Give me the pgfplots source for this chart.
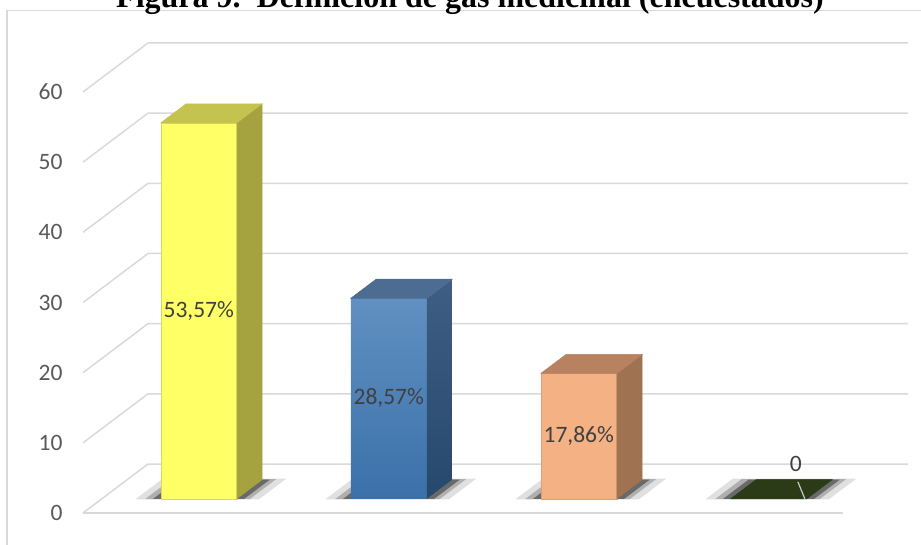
\documentclass[border=0pt]{standalone}
\usepackage{pgfplots}
\pgfplotsset{compat=1.18}
\usepackage{fontspec}
\setmainfont{Carlito}
\newfontfamily\titlefont{Liberation Serif}
\definecolor{gridc}{HTML}{D9D9D9}
\definecolor{ticklab}{HTML}{595959}
\definecolor{datalab}{HTML}{404040}
\definecolor{yfront}{HTML}{FFFF66}
\definecolor{ytop}{HTML}{C5C34F}
\definecolor{yside}{HTML}{A4A340}
\definecolor{bfronttop}{HTML}{6190C2}
\definecolor{bfrontbot}{HTML}{3A71A9}
\definecolor{btop}{HTML}{4C6D91}
\definecolor{bsidetop}{HTML}{3E5F82}
\definecolor{bsidebot}{HTML}{26486D}
\definecolor{ofront}{HTML}{F4B183}
\definecolor{otop}{HTML}{B88160}
\definecolor{oside}{HTML}{9F7351}
\definecolor{gtop}{HTML}{2B3A17}
\begin{document}
\begin{tikzpicture}
\path[use as bounding box] (0bp,0bp) rectangle (921bp,-545bp);
\clip (0bp,0bp) rectangle (921bp,-545bp);
\draw[gridc, line width=1.5bp] (7bp,-10.7bp) rectangle (950bp,-580bp);
\node[font=\titlefont\bfseries\fontsize{32bp}{36bp}\selectfont, anchor=base, inner sep=0pt] at (470bp,-7bp) {Figura 9.\ \ Definición de gas medicinal (encuestados)};
\begin{axis}[
  at={(178bp,-513bp)}, anchor=origin,
  x={(190bp,0bp)}, y={(65bp,49bp)}, z={(0bp,7.017bp)},
  xmin=-0.5, xmax=3.5, ymin=0, ymax=1, zmin=0, zmax=60,
  clip=false,
  axis line style={draw=none},
  xtick=\empty, ytick=\empty,
  ztick={0,10,20,30,40,50,60},
  major tick length=0pt,
  /pgf/number format/assume math mode=true,
  zticklabel style={font=\fontsize{23.5bp}{28bp}\selectfont, text=ticklab, anchor=east, xshift=-17bp},
]
% grid: left wall and back wall
\addplot3[gridc, line width=1.5bp] coordinates {(-0.5,0,0) (-0.5,1,0) (3.5,1,0)};
\addplot3[gridc, line width=1.5bp] coordinates {(-0.5,0,10) (-0.5,1,10) (3.5,1,10)};
\addplot3[gridc, line width=1.5bp] coordinates {(-0.5,0,20) (-0.5,1,20) (3.5,1,20)};
\addplot3[gridc, line width=1.5bp] coordinates {(-0.5,0,30) (-0.5,1,30) (3.5,1,30)};
\addplot3[gridc, line width=1.5bp] coordinates {(-0.5,0,40) (-0.5,1,40) (3.5,1,40)};
\addplot3[gridc, line width=1.5bp] coordinates {(-0.5,0,50) (-0.5,1,50) (3.5,1,50)};
\addplot3[gridc, line width=1.5bp] coordinates {(-0.5,0,60) (-0.5,1,60) (3.5,1,60)};
\addplot3[gridc, line width=1.5bp] coordinates {(-0.5,0,0) (3.5,0,0)};
% shadows
\addplot3[fill=black, fill opacity=0.12, draw=none] coordinates {(-0.32,0.28,0) (0.33,0.28,0) (0.33,0.70,0) (-0.32,0.70,0)} -- cycle;
\addplot3[fill=black, fill opacity=0.22, draw=none] coordinates {(-0.27,0.285,0) (0.28,0.285,0) (0.28,0.69,0) (-0.27,0.69,0)} -- cycle;
\addplot3[fill=black, fill opacity=0.40, draw=none] coordinates {(-0.23,0.29,0) (0.25,0.29,0) (0.25,0.68,0) (-0.23,0.68,0)} -- cycle;
\addplot3[fill=black, fill opacity=0.12, draw=none] coordinates {(0.68,0.28,0) (1.33,0.28,0) (1.33,0.70,0) (0.68,0.70,0)} -- cycle;
\addplot3[fill=black, fill opacity=0.22, draw=none] coordinates {(0.73,0.285,0) (1.28,0.285,0) (1.28,0.69,0) (0.73,0.69,0)} -- cycle;
\addplot3[fill=black, fill opacity=0.40, draw=none] coordinates {(0.77,0.29,0) (1.25,0.29,0) (1.25,0.68,0) (0.77,0.68,0)} -- cycle;
\addplot3[fill=black, fill opacity=0.12, draw=none] coordinates {(1.68,0.28,0) (2.33,0.28,0) (2.33,0.70,0) (1.68,0.70,0)} -- cycle;
\addplot3[fill=black, fill opacity=0.22, draw=none] coordinates {(1.73,0.285,0) (2.28,0.285,0) (2.28,0.69,0) (1.73,0.69,0)} -- cycle;
\addplot3[fill=black, fill opacity=0.40, draw=none] coordinates {(1.77,0.29,0) (2.25,0.29,0) (2.25,0.68,0) (1.77,0.68,0)} -- cycle;
\addplot3[fill=black, fill opacity=0.12, draw=none] coordinates {(2.68,0.28,0) (3.33,0.28,0) (3.33,0.70,0) (2.68,0.70,0)} -- cycle;
\addplot3[fill=black, fill opacity=0.22, draw=none] coordinates {(2.73,0.285,0) (3.28,0.285,0) (3.28,0.69,0) (2.73,0.69,0)} -- cycle;
\addplot3[fill=black, fill opacity=0.40, draw=none] coordinates {(2.77,0.29,0) (3.25,0.29,0) (3.25,0.68,0) (2.77,0.68,0)} -- cycle;
% bar 1: 53.57
\addplot3[fill=yfront, draw=yfront!85!black, line width=0.5bp] coordinates {(-0.19,0.29,0) (0.21,0.29,0) (0.21,0.29,53.57) (-0.19,0.29,53.57)} -- cycle;
\addplot3[fill=yside, draw=yside, line width=0.5bp] coordinates {(0.21,0.29,0) (0.21,0.68,0) (0.21,0.68,53.57) (0.21,0.29,53.57)} -- cycle;
\addplot3[fill=ytop, draw=ytop, line width=0.5bp] coordinates {(-0.19,0.29,53.57) (0.21,0.29,53.57) (0.21,0.68,53.57) (-0.19,0.68,53.57)} -- cycle;
% bar 2: 28.57
\addplot3[top color=bfronttop, bottom color=bfrontbot, draw=none] coordinates {(0.81,0.29,0) (1.21,0.29,0) (1.21,0.29,28.57) (0.81,0.29,28.57)} -- cycle;
\addplot3[top color=bsidetop, bottom color=bsidebot, draw=none] coordinates {(1.21,0.29,0) (1.21,0.68,0) (1.21,0.68,28.57) (1.21,0.29,28.57)} -- cycle;
\addplot3[fill=btop, draw=btop, line width=0.5bp] coordinates {(0.81,0.29,28.57) (1.21,0.29,28.57) (1.21,0.68,28.57) (0.81,0.68,28.57)} -- cycle;
% bar 3: 17.86
\addplot3[fill=ofront, draw=ofront!90!black, line width=0.5bp] coordinates {(1.81,0.29,0) (2.21,0.29,0) (2.21,0.29,17.86) (1.81,0.29,17.86)} -- cycle;
\addplot3[fill=oside, draw=oside, line width=0.5bp] coordinates {(2.21,0.29,0) (2.21,0.68,0) (2.21,0.68,17.86) (2.21,0.29,17.86)} -- cycle;
\addplot3[fill=otop, draw=otop, line width=0.5bp] coordinates {(1.81,0.29,17.86) (2.21,0.29,17.86) (2.21,0.68,17.86) (1.81,0.68,17.86)} -- cycle;
% bar 4: 0
\addplot3[fill=gtop, draw=gtop, line width=0.5bp] coordinates {(2.81,0.29,0) (3.21,0.29,0) (3.21,0.68,0) (2.81,0.68,0)} -- cycle;
% data labels
\node[font=\fontsize{23.5bp}{28bp}\selectfont, text=datalab, inner sep=0pt] at (axis cs:0.01,0.29,26.8) {53,57\%};
\node[font=\fontsize{23.5bp}{28bp}\selectfont, text=datalab, inner sep=0pt] at (axis cs:1.01,0.29,14.3) {28,57\%};
\node[font=\fontsize{23.5bp}{28bp}\selectfont, text=datalab, inner sep=0pt] at (axis cs:2.01,0.29,8.9) {17,86\%};
\draw[gridc!80!gray, line width=1.2bp] (axis cs:3.2,0.29,0) -- ([xshift=-7bp,yshift=17bp]axis cs:3.2,0.29,0);
\node[font=\fontsize{23.5bp}{28bp}\selectfont, text=datalab, inner sep=0pt] at ([xshift=-9bp,yshift=35bp]axis cs:3.2,0.29,0) {0};
\end{axis}
\end{tikzpicture}
\end{document}
